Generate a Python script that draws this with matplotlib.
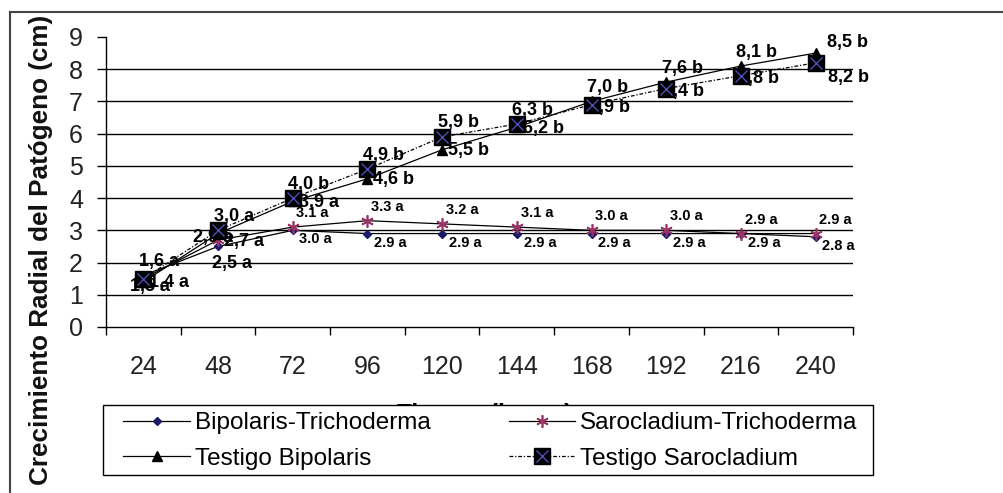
import matplotlib
matplotlib.use('Agg')
import numpy as np
import matplotlib.pyplot as plt
from matplotlib.lines import Line2D
from matplotlib.patches import Rectangle
from matplotlib.legend_handler import HandlerTuple

plt.rcParams['font.family'] = ['Liberation Sans', 'DejaVu Sans']

horas = ['24', '48', '72', '96', '120', '144', '168', '192', '216', '240']

bip_trich = [1.6, 2.5, 3.0, 2.9, 2.9, 2.9, 2.9, 2.9, 2.9, 2.8]
saro_trich = [1.5, 2.7, 3.1, 3.3, 3.2, 3.1, 3.0, 3.0, 2.9, 2.9]
test_bip = [1.4, 2.9, 3.9, 4.6, 5.5, 6.2, 7.0, 7.6, 8.1, 8.5]
test_saro = [1.5, 3.0, 4.0, 4.9, 5.9, 6.3, 6.9, 7.4, 7.8, 8.2]

lab_bip_trich = ['1,6 a', '2,5 a', '3.0 a', '2.9 a', '2.9 a', '2.9 a', '2.9 a', '2.9 a', '2.9 a', '2.8 a']
lab_saro_trich = [None, '2,7 a', '3.1 a', '3.3 a', '3.2 a', '3.1 a', '3.0 a', '3.0 a', '2.9 a', '2.9 a']
lab_test_bip = ['1,4 a', '2,9 a', '3,9 a', '4,6 b', '5,5 b', '6,2 b', '7,0 b', '7,6 b', '8,1 b', '8,5 b']
lab_test_saro = ['1,5 a', '3,0 a', '4,0 b', '4,9 b', '5,9 b', '6,3 b', '6,9 b', '7,4 b', '7,8 b', '8,2 b']

# where each data label sits relative to its point
pos_bip_trich = ['above', 'below2'] + ['below'] * 8
pos_saro_trich = [None, 'right'] + ['above_s'] * 8
pos_test_bip = ['right', 'left', 'right', 'right', 'right', 'right', 'above', 'above', 'above', 'above_far']
pos_test_saro = ['below_t', 'above', 'above', 'above', 'above', 'above', 'right_sq', 'right_sq', 'right_sq', 'right_low']

# offsets in pixels (dx, dy with y down) and alignment
offsets = {
    'above': (16, -14, 'center'),
    'above_s': (20, -14, 'center'),
    'above_far': (32, -11, 'center'),
    'right': (6, 1, 'left'),
    'right_sq': (-3, 3, 'left'),
    'right_low': (12, 15, 'left'),
    'left': (-25, 4, 'left'),
    'below': (23, 9, 'center'),
    'below2': (14, 17, 'center'),
    'below_t': (7, 8, 'center'),
}

W, H = 1004, 493
fig = plt.figure(figsize=(W / 100, H / 100), dpi=100)
ax = fig.add_axes([106 / W, 1 - 327 / H, 747 / W, 290 / H])

x = np.arange(len(horas))

l1, = ax.plot(x, bip_trich, color='black', lw=0.9, marker='D', ms=4.5,
              mfc='#1a1a66', mec='#1a1a66', zorder=4)
l2, = ax.plot(x, saro_trich, color='black', lw=0.9, marker=(6, 2, 0), ms=9,
              mec='#993366', mew=1.2, zorder=4)
l3, = ax.plot(x, test_bip, color='black', lw=0.9, marker='^', ms=7,
              mfc='black', mec='black', zorder=4)
l4, = ax.plot(x, test_saro, color='black', lw=0.9, ls=(0, (3, 1.5, 1, 1.5)),
              marker='s', ms=11, mfc='black', mec='black', zorder=5)
l4x, = ax.plot(x, test_saro, ls='none', marker='x', ms=8, mec='#5555cc',
               mew=0.9, zorder=6)

def put_labels(vals, labs, poss):
    for xi, v, t, p in zip(x, vals, labs, poss):
        if t is None:
            continue
        dx, dy, ha = offsets[p]
        big = ',' in t
        ax.annotate(t, (xi, v), xytext=(dx, -dy), textcoords='offset pixels',
                    ha=ha, va='center', fontweight='bold',
                    fontsize=13 if big else 10.5, color='black', zorder=4.5,
                    annotation_clip=False)

put_labels(bip_trich, lab_bip_trich, pos_bip_trich)
put_labels(saro_trich, lab_saro_trich, pos_saro_trich)
put_labels(test_bip, lab_test_bip, pos_test_bip)
put_labels(test_saro, lab_test_saro, pos_test_saro)

ax.set_xlim(-0.5, len(horas) - 0.5)
ax.set_ylim(0, 9)
ax.set_yticks(range(10))
ax.set_yticklabels([str(i) for i in range(10)], fontsize=18, color='#222222')
ax.tick_params(axis='y', direction='out', length=6.5, width=1, pad=10)

ax.set_xticks(np.arange(-0.5, len(horas), 1.0))
ax.set_xticklabels([])
ax.tick_params(axis='x', which='major', direction='out', length=6, width=1)
ax.set_xticks(x, minor=True)
ax.set_xticklabels(horas, minor=True, fontsize=18, color='#222222')
ax.tick_params(axis='x', which='minor', length=0, pad=20)

for yv in range(1, 9):
    ax.axhline(yv, color='black', lw=1, zorder=1)
ax.spines['top'].set_visible(False)
ax.spines['right'].set_visible(False)
ax.spines['left'].set_linewidth(1)
ax.spines['bottom'].set_linewidth(1)

fig.text(41 / W, 1 - 250 / H, 'Crecimiento Radial del Patógeno (cm)',
         rotation=90, ha='center', va='center', fontsize=18.8,
         fontweight='bold', color='#111111')
fig.text(485 / W, 1 - 403 / H, 'Tiempo (horas)', ha='center', va='top',
         fontsize=17.5, fontweight='bold')

# legend box drawn separately so the entries can sit inside with Excel-like padding
box = Rectangle((103 / W, 1 - 475 / H), 770 / W, 70 / H, transform=fig.transFigure,
                facecolor='white', edgecolor='black', lw=1, zorder=9)
fig.add_artist(box)
leg = fig.legend([l1, l3, l2, (l4, l4x)],
                 ['Bipolaris-Trichoderma', 'Testigo Bipolaris',
                  'Sarocladium-Trichoderma', 'Testigo Sarocladium'],
                 handler_map={tuple: HandlerTuple(ndivide=1)},
                 loc='upper left', bbox_to_anchor=(116 / W, 1 - 405 / H),
                 ncol=2, fontsize=17.5, handlelength=2.75,
                 handletextpad=0.2, labelspacing=0.55, borderpad=0.3,
                 borderaxespad=0, columnspacing=3.2, frameon=False)
leg.set_zorder(10)

# outer chart border (left and top edges)
fig.add_artist(Line2D([10 / W, 10 / W], [0, 1 - 12 / H], color='#444444', lw=1.5))
fig.add_artist(Line2D([10 / W, 1], [1 - 12 / H, 1 - 12 / H], color='#444444', lw=1.5))

fig.savefig('out.png', dpi=100)
